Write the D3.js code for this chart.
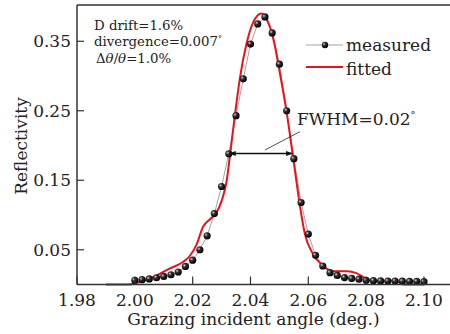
<!DOCTYPE html>
<html>
<head>
<meta charset="utf-8">
<script src="https://cdn.jsdelivr.net/npm/d3@7"></script>
<style>
  body { margin: 0; background: #fff; }
  svg { display: block; }
  text { font-family: "DejaVu Serif", "Liberation Serif", serif; fill: #222; }
</style>
</head>
<body>
<div class="svg-chart"></div>
<script>
// measured reflectivity, one point every 0.0025 deg
const measuredAngle = [2.0000, 2.0025, 2.0050, 2.0075, 2.0100, 2.0125, 2.0150, 2.0175, 2.0200, 2.0225,
  2.0250, 2.0275, 2.0300, 2.0325, 2.0350, 2.0375, 2.0400, 2.0425, 2.0450, 2.0475,
  2.0500, 2.0525, 2.0550, 2.0575, 2.0600, 2.0625, 2.0650, 2.0675, 2.0700, 2.0725,
  2.0750, 2.0775, 2.0800, 2.0825, 2.0850, 2.0875, 2.0900, 2.0925, 2.0950, 2.0975, 2.1000];
const measuredValue = [0.006, 0.007, 0.008, 0.0097, 0.0116, 0.014, 0.018, 0.026, 0.035, 0.050,
  0.070, 0.102, 0.141, 0.188, 0.243, 0.296, 0.346, 0.375, 0.385, 0.362,
  0.317, 0.250, 0.181, 0.118, 0.0725, 0.042, 0.0266, 0.017, 0.013, 0.010,
  0.0087, 0.0077, 0.0060, 0.0055, 0.0052, 0.0050, 0.0050, 0.0048, 0.0046, 0.0045, 0.0040];

const fittedAngle = [1.990, 1.998, 2.000, 2.003, 2.0075, 2.012, 2.0165, 2.019, 2.0213, 2.0236,
  2.026, 2.028, 2.030, 2.0318, 2.0328, 2.0345, 2.0363, 2.0386, 2.041, 2.0438,
  2.0467, 2.0484, 2.050, 2.0525, 2.0548, 2.0576, 2.0588, 2.0616, 2.065, 2.0685,
  2.071, 2.0735, 2.0766, 2.080, 2.0825, 2.0858, 2.090, 2.0915, 2.093, 2.100];
const fittedValue = [0, 0, 0.002, 0.005, 0.013, 0.023, 0.032, 0.041, 0.057, 0.083,
  0.094, 0.102, 0.120, 0.150, 0.182, 0.240, 0.296, 0.346, 0.378, 0.390,
  0.371, 0.344, 0.308, 0.248, 0.181, 0.100, 0.073, 0.044, 0.0275, 0.019,
  0.019, 0.019, 0.0164, 0.0083, 0.0043, 0.005, 0.0058, 0.003, 0, 0];

const xTicks = [1.98, 2.00, 2.02, 2.04, 2.06, 2.08, 2.10];
const yTicks = [0.05, 0.15, 0.25, 0.35];

const fwhmAngle = [2.0327, 2.0545];
const fwhmLevel = 0.1885;
const fwhmLabel = "FWHM=0.02";
const leaderAngle = [2.045, 2.0571];
const leaderValue = [0.1936, 0.2199];

const width = 450, height = 334;
const margin = { top: 5, right: 0, bottom: 49.5, left: 77 };

const svg = d3.select('.svg-chart').append('svg')
  .attr('width', width)
  .attr('height', height);

const x = d3.scaleLinear()
  .domain([1.98, 2.109])
  .range([margin.left, width - margin.right]);

const y = d3.scaleLinear()
  .domain([0, 0.4022])
  .range([height - margin.bottom, margin.top]);

const defs = svg.append('defs');
const grad = defs.append('radialGradient')
  .attr('id', 'ball')
  .attr('cx', '35%').attr('cy', '35%').attr('r', '65%');
grad.append('stop').attr('offset', '0%').attr('stop-color', '#d8d8d8');
grad.append('stop').attr('offset', '35%').attr('stop-color', '#333');
grad.append('stop').attr('offset', '100%').attr('stop-color', '#000');

const measured = measuredAngle.map((a, i) => ({ a: a, v: measuredValue[i] }));
const fitted = fittedAngle.map((a, i) => ({ a: a, v: fittedValue[i] }));

// measured: thin grey line + balls
svg.append('path')
  .datum(measured)
  .attr('fill', 'none')
  .attr('stroke', '#8a8a8a')
  .attr('stroke-width', 0.8)
  .attr('d', d3.line().x(d => x(d.a)).y(d => y(d.v)));

svg.append('path')
  .datum(fitted)
  .attr('fill', 'none')
  .attr('stroke', '#e8141b')
  .attr('stroke-width', 2)
  .attr('stroke-linejoin', 'round')
  .attr('d', d3.line().curve(d3.curveMonotoneX).x(d => x(d.a)).y(d => y(d.v)));

svg.selectAll('.dot')
  .data(measured)
  .enter()
  .append('circle')
  .attr('class', 'dot')
  .attr('cx', d => x(d.a))
  .attr('cy', d => y(d.v))
  .attr('r', 3.6)
  .attr('fill', 'url(#ball)');

// frame: left, top, bottom
const axisColor = '#333';
svg.append('line')
  .attr('x1', x(1.98)).attr('x2', x(1.98))
  .attr('y1', y.range()[1]).attr('y2', y.range()[0])
  .attr('stroke', axisColor).attr('stroke-width', 1.5);
svg.append('line')
  .attr('x1', x(1.98)).attr('x2', x.range()[1])
  .attr('y1', y.range()[1]).attr('y2', y.range()[1])
  .attr('stroke', axisColor).attr('stroke-width', 1.5);
svg.append('line')
  .attr('x1', x(1.98)).attr('x2', x.range()[1])
  .attr('y1', y(0)).attr('y2', y(0))
  .attr('stroke', axisColor).attr('stroke-width', 1.5);

// ticks point inward
svg.selectAll('.xtick')
  .data(xTicks)
  .enter()
  .append('line')
  .attr('x1', d => x(d)).attr('x2', d => x(d))
  .attr('y1', y(0)).attr('y2', y(0) - 8)
  .attr('stroke', axisColor).attr('stroke-width', 1.2);

svg.selectAll('.xlabel')
  .data(xTicks)
  .enter()
  .append('text')
  .attr('x', d => x(d))
  .attr('y', y(0) + 21)
  .attr('text-anchor', 'middle')
  .attr('font-size', 17)
  .text(d => d.toFixed(2));

svg.selectAll('.ytick')
  .data(yTicks)
  .enter()
  .append('line')
  .attr('x1', x(1.98)).attr('x2', x(1.98) + 7)
  .attr('y1', d => y(d)).attr('y2', d => y(d))
  .attr('stroke', axisColor).attr('stroke-width', 1.2);

svg.selectAll('.ylabel')
  .data(yTicks)
  .enter()
  .append('text')
  .attr('x', x(1.98) - 6)
  .attr('y', d => y(d) + 6)
  .attr('text-anchor', 'end')
  .attr('font-size', 17)
  .text(d => d.toFixed(2));

svg.append('text')
  .attr('x', (x.range()[0] + 430) / 2)
  .attr('y', 325)
  .attr('text-anchor', 'middle')
  .attr('font-size', 17)
  .text('Grazing incident angle (deg.)');

svg.append('text')
  .attr('transform', 'translate(27,146) rotate(-90)')
  .attr('text-anchor', 'middle')
  .attr('font-size', 17)
  .text('Reflectivity');

// annotation block
const note = svg.append('text')
  .attr('font-size', 13.3);
note.append('tspan').attr('x', 94).attr('y', 30).text('D drift=1.6%');
note.append('tspan').attr('x', 94).attr('y', 46.3).text('divergence=0.007');
note.append('tspan').attr('dy', -5).attr('font-size', 8).text('°');
note.append('tspan').attr('x', 96).attr('y', 62.6).text('Δ');
note.append('tspan').attr('font-style', 'italic').text('θ');
note.append('tspan').text('/');
note.append('tspan').attr('font-style', 'italic').text('θ');
note.append('tspan').text('=1.0%');

// legend
const lg = svg.append('g');
lg.append('line')
  .attr('x1', 306).attr('x2', 343).attr('y1', 45).attr('y2', 45)
  .attr('stroke', '#8a8a8a').attr('stroke-width', 0.8);
lg.append('circle')
  .attr('cx', 325).attr('cy', 45).attr('r', 3.2)
  .attr('fill', 'url(#ball)');
lg.append('text')
  .attr('x', 346).attr('y', 51)
  .attr('font-size', 17)
  .text('measured');
lg.append('line')
  .attr('x1', 306).attr('x2', 343).attr('y1', 67).attr('y2', 67)
  .attr('stroke', '#e8141b').attr('stroke-width', 2);
lg.append('text')
  .attr('x', 346).attr('y', 75)
  .attr('font-size', 17)
  .text('fitted');

// FWHM arrow
const marker = (id, orient) => defs.append('marker')
  .attr('id', id)
  .attr('viewBox', '0 0 10 10')
  .attr('refX', 9).attr('refY', 5)
  .attr('markerWidth', 7).attr('markerHeight', 7)
  .attr('markerUnits', 'userSpaceOnUse')
  .attr('orient', orient)
  .append('path')
  .attr('d', 'M0,1.5 L10,5 L0,8.5 Z')
  .attr('fill', '#111');
marker('arrowEnd', 'auto');
marker('arrowStart', 'auto-start-reverse');

svg.append('line')
  .attr('x1', x(fwhmAngle[0])).attr('x2', x(fwhmAngle[1]))
  .attr('y1', y(fwhmLevel)).attr('y2', y(fwhmLevel))
  .attr('stroke', '#111').attr('stroke-width', 1.5)
  .attr('marker-start', 'url(#arrowStart)')
  .attr('marker-end', 'url(#arrowEnd)');

svg.append('line')
  .attr('x1', x(leaderAngle[0])).attr('x2', x(leaderAngle[1]))
  .attr('y1', y(leaderValue[0])).attr('y2', y(leaderValue[1]))
  .attr('stroke', '#222').attr('stroke-width', 0.8);

const fw = svg.append('text')
  .attr('x', 297).attr('y', 125)
  .attr('font-size', 17)
  .text(fwhmLabel);
fw.append('tspan').attr('dy', -7).attr('font-size', 10).text('°');
</script>
</body>
</html>
